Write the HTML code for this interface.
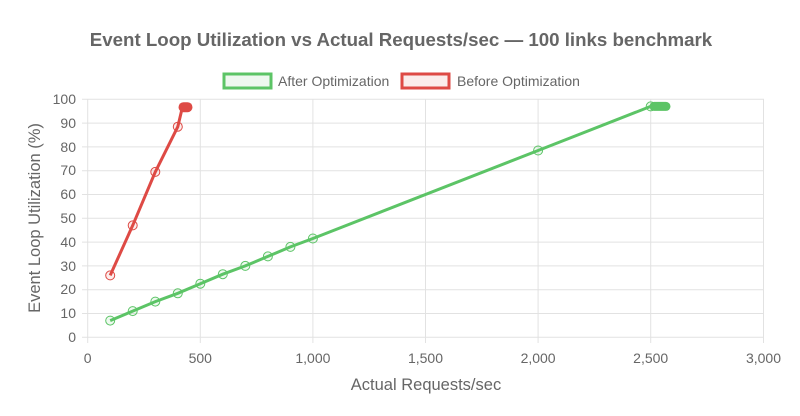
<!DOCTYPE html>
<html><head><meta charset="utf-8"><style>
html,body{margin:0;padding:0;background:#fff;}
svg{display:block;font-family:"Liberation Sans",Helvetica,Arial,sans-serif;}
</style></head><body>
<svg width="800" height="416" viewBox="0 0 800 416" xmlns="http://www.w3.org/2000/svg">
<text x="401" y="46" text-anchor="middle" font-size="18.7" font-weight="bold" fill="#666">Event Loop Utilization vs Actual Requests/sec — 100 links benchmark</text>
<rect x="224" y="74" width="47" height="14" fill="#eef8ef" stroke="#5cc466" stroke-width="3"/>
<text x="278" y="86" font-size="14" fill="#666">After Optimization</text>
<rect x="402" y="74" width="47" height="14" fill="#fbeceb" stroke="#de4a45" stroke-width="3"/>
<text x="457" y="86" font-size="14" fill="#666">Before Optimization</text>
<g stroke="#e2e2e2" stroke-width="1">
<line x1="82" y1="99.3" x2="764" y2="99.3"/><line x1="82" y1="123.1" x2="764" y2="123.1"/><line x1="82" y1="146.9" x2="764" y2="146.9"/><line x1="82" y1="170.7" x2="764" y2="170.7"/><line x1="82" y1="194.5" x2="764" y2="194.5"/><line x1="82" y1="218.3" x2="764" y2="218.3"/><line x1="82" y1="242.1" x2="764" y2="242.1"/><line x1="82" y1="265.9" x2="764" y2="265.9"/><line x1="82" y1="289.7" x2="764" y2="289.7"/><line x1="82" y1="313.5" x2="764" y2="313.5"/><line x1="82" y1="337.3" x2="764" y2="337.3"/>
<line x1="87.7" y1="99.3" x2="87.7" y2="343"/><line x1="200.3" y1="99.3" x2="200.3" y2="343"/><line x1="312.9" y1="99.3" x2="312.9" y2="343"/><line x1="425.5" y1="99.3" x2="425.5" y2="343"/><line x1="538.1" y1="99.3" x2="538.1" y2="343"/><line x1="650.7" y1="99.3" x2="650.7" y2="343"/><line x1="763.5" y1="99.3" x2="763.5" y2="343"/>
</g>
<g font-size="14" fill="#666" text-anchor="end">
<text x="76" y="104">100</text><text x="76" y="128">90</text><text x="76" y="152">80</text><text x="76" y="175">70</text><text x="76" y="199">60</text><text x="76" y="223">50</text><text x="76" y="247">40</text><text x="76" y="271">30</text><text x="76" y="294">20</text><text x="76" y="318">10</text><text x="76" y="342">0</text>
</g>
<g font-size="14" fill="#666" text-anchor="middle">
<text x="87.7" y="363">0</text><text x="200.3" y="363">500</text><text x="312.9" y="363">1,000</text><text x="425.5" y="363">1,500</text><text x="538.1" y="363">2,000</text><text x="650.7" y="363">2,500</text><text x="763.5" y="363">3,000</text>
</g>
<text x="426" y="390" text-anchor="middle" font-size="16.5" fill="#666">Actual Requests/sec</text>
<text transform="translate(40,218) rotate(-90)" text-anchor="middle" font-size="16.5" fill="#666">Event Loop Utilization (%)</text>
<g fill="none" stroke="#5cc466">
<polyline stroke-width="3" points="110.2,320.6 132.7,311.1 155.3,301.6 177.8,293.3 200.3,283.7 222.8,274.2 245.3,265.9 267.9,256.4 290.4,246.9 312.9,238.5 538.1,150.5 650.7,106.4 666.5,106.4"/>
<g stroke-width="1" fill="rgba(92,196,102,0.1)">
<circle cx="110.2" cy="320.6" r="4.5"/><circle cx="132.7" cy="311.1" r="4.5"/><circle cx="155.3" cy="301.6" r="4.5"/><circle cx="177.8" cy="293.3" r="4.5"/><circle cx="200.3" cy="283.7" r="4.5"/><circle cx="222.8" cy="274.2" r="4.5"/><circle cx="245.3" cy="265.9" r="4.5"/><circle cx="267.9" cy="256.4" r="4.5"/><circle cx="290.4" cy="246.9" r="4.5"/><circle cx="312.9" cy="238.5" r="4.5"/><circle cx="538.1" cy="150.5" r="4.5"/><circle cx="650.7" cy="106.4" r="4.5"/>
</g>
<line x1="654" y1="106.4" x2="666" y2="106.4" stroke-width="9" stroke-linecap="round"/>
</g>
<g fill="none" stroke="#de4a45">
<polyline stroke-width="3" points="110.2,275.4 132.7,225.4 155.3,171.9 177.8,126.7 182.3,107.6 187.9,107.6"/>
<g stroke-width="1" fill="rgba(222,74,69,0.1)">
<circle cx="110.2" cy="275.4" r="4.5"/><circle cx="132.7" cy="225.4" r="4.5"/><circle cx="155.3" cy="171.9" r="4.5"/><circle cx="177.8" cy="126.7" r="4.5"/>
</g>
<line x1="183.5" y1="107.2" x2="187.5" y2="107.2" stroke-width="10" stroke-linecap="round"/>
</g>
</svg>
</body></html>
